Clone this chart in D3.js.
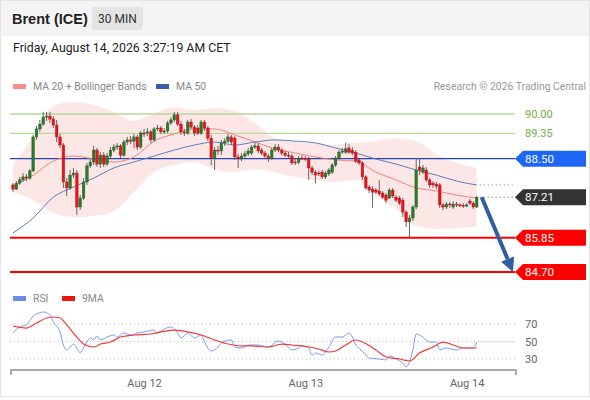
<!DOCTYPE html>
<html>
<head>
<meta charset="utf-8">
<script src="https://cdn.jsdelivr.net/npm/d3@7"></script>
<style>
  body { margin: 0; background: #fff; }
  svg { display: block; font-family: Roboto, "Liberation Sans", Arial, sans-serif; }
</style>
</head>
<body>
<svg id="chart" width="590" height="400"></svg>
<script>
// 30 min candles, Brent (ICE)
const open = [87.62,87.48,87.68,87.79,87.89,87.85,88.09,89.23,89.50,89.66,
  89.90,89.93,89.83,89.63,89.23,88.96,87.72,87.52,87.95,88.02,
  86.88,87.18,87.72,88.26,88.39,88.79,88.32,88.62,88.32,88.59,
  88.79,88.89,88.93,88.62,89.06,89.13,89.09,89.23,88.89,89.36,
  89.36,89.40,89.13,89.50,89.53,89.40,89.43,89.70,89.80,89.97,
  89.66,89.40,89.36,89.73,89.56,89.53,89.36,89.73,89.53,89.19,
  88.52,88.79,88.76,89.03,89.09,89.23,89.19,88.56,88.49,88.59,
  88.66,88.69,88.89,88.93,88.79,88.69,88.59,88.52,88.79,88.89,
  88.79,88.69,88.62,88.59,88.39,88.38,88.52,88.51,88.49,88.19,
  88.05,88.02,88.05,87.89,87.99,88.05,88.29,88.52,88.72,88.72,
  88.86,88.79,88.72,88.46,88.36,87.89,87.55,87.48,87.45,87.42,
  87.35,87.28,87.18,87.45,87.21,87.18,87.11,86.71,86.38,86.51,
  86.88,88.22,88.05,88.12,87.79,87.68,87.65,87.62,86.95,86.88,
  86.98,86.88,86.98,86.95,86.94,86.91,87.08,87.01,86.88];
const high = [87.68,87.75,87.89,88.02,87.99,88.15,89.30,89.60,89.80,90.07,
  90.07,90.07,89.93,89.80,89.33,89.03,87.85,88.12,88.19,88.12,
  87.28,87.85,88.36,88.52,88.93,88.86,88.72,88.72,88.69,88.89,
  88.99,89.03,88.99,89.13,89.23,89.26,89.33,89.30,89.43,89.50,
  89.53,89.46,89.56,89.63,89.60,89.53,89.77,89.90,90.07,90.07,
  89.77,89.50,89.80,89.83,89.63,89.63,89.80,89.80,89.60,89.30,
  88.89,88.93,89.13,89.19,89.33,89.30,89.26,88.66,88.69,88.76,
  88.86,88.96,89.06,89.03,88.86,88.76,88.66,88.86,88.99,88.99,
  88.86,88.76,88.72,88.66,88.49,88.59,88.62,88.59,88.56,88.26,
  88.12,88.09,88.12,88.09,88.19,88.36,88.59,88.79,88.86,89.03,
  88.99,88.89,88.79,88.52,88.42,87.95,87.62,87.58,87.52,87.79,
  87.42,87.35,87.52,87.52,87.28,87.25,87.18,86.78,86.61,86.95,
  88.52,88.52,88.29,88.22,87.85,87.75,87.72,87.68,87.01,87.05,
  87.05,87.08,87.05,87.01,87.01,87.01,87.15,87.08,87.25];
const low = [87.38,87.45,87.62,87.72,87.75,87.79,88.05,89.13,89.40,89.60,
  89.77,89.70,89.53,89.06,88.86,87.52,87.25,87.45,87.85,86.61,
  86.78,87.11,87.62,88.19,88.29,88.22,88.19,88.22,88.26,88.52,
  88.72,88.79,88.52,88.56,88.96,88.99,88.86,88.79,88.83,89.23,
  89.26,89.03,89.06,89.43,89.33,89.33,89.36,89.63,89.73,89.60,
  89.30,89.26,89.30,89.50,89.26,89.30,89.30,89.43,89.09,88.29,
  88.12,88.62,88.62,88.93,89.03,88.96,88.46,88.19,88.42,88.52,
  88.59,88.62,88.83,88.69,88.62,88.52,88.39,88.46,88.72,88.72,
  88.62,88.56,88.52,88.29,88.29,88.32,88.46,88.42,87.79,87.95,
  87.68,87.92,87.82,87.82,87.92,87.99,88.22,88.46,88.66,88.66,
  88.66,88.62,88.36,88.29,87.79,87.45,87.35,86.85,87.32,87.25,
  87.15,87.01,87.15,87.18,87.05,86.95,86.54,86.21,85.84,86.41,
  86.81,87.95,87.99,87.72,87.52,87.52,87.48,86.85,86.78,86.81,
  86.85,86.81,86.88,86.88,86.85,86.88,86.95,86.81,86.85];
const close = [87.48,87.68,87.79,87.89,87.85,88.09,89.23,89.50,89.66,89.90,
  89.93,89.83,89.63,89.23,88.96,87.72,87.52,87.95,88.02,86.88,
  87.18,87.72,88.26,88.39,88.79,88.32,88.62,88.32,88.59,88.79,
  88.89,88.93,88.62,89.06,89.13,89.09,89.23,88.89,89.36,89.35,
  89.40,89.13,89.50,89.53,89.40,89.43,89.70,89.80,89.97,89.66,
  89.40,89.36,89.73,89.56,89.36,89.36,89.73,89.53,89.19,88.52,
  88.79,88.76,89.03,89.09,89.23,89.06,88.56,88.49,88.59,88.66,
  88.76,88.89,88.93,88.76,88.69,88.59,88.52,88.79,88.89,88.79,
  88.69,88.62,88.59,88.36,88.38,88.52,88.51,88.49,88.19,88.05,
  87.95,87.99,87.89,88.02,88.12,88.29,88.52,88.72,88.76,88.83,
  88.72,88.69,88.42,88.36,87.89,87.52,87.45,87.38,87.38,87.32,
  87.21,87.11,87.45,87.25,87.11,87.01,86.71,86.38,86.51,86.88,
  88.12,88.12,88.19,87.79,87.62,87.62,87.58,86.95,86.88,86.98,
  86.95,86.98,86.95,86.94,86.91,86.95,87.01,86.88,87.21];

// overlays, read every 6 candles
const ovIdx = [0,6,12,18,24,30,36,42,48,54,60,66,72,78,84,90,96,102,108,114,120,126,132,138];
const ma20 = [87.58,87.95,88.42,88.59,88.49,88.39,88.56,89.09,89.33,89.50,89.50,89.30,
  89.06,88.83,88.69,88.56,88.46,88.42,88.05,87.79,87.52,87.42,87.28,87.18];
const ma50 = [86.01,86.51,87.21,87.55,87.85,88.19,88.39,88.59,88.79,88.96,89.06,88.96,
  89.06,89.13,89.09,89.03,88.86,88.69,88.49,88.32,88.12,87.95,87.75,87.62];
const bbUp = [88.29,89.23,90.27,90.40,90.30,90.07,89.77,90.03,90.23,90.13,90.20,90.10,
  89.70,89.19,89.06,89.03,88.96,89.03,89.09,89.19,89.09,88.66,88.36,88.19];
const bbLow = [87.38,87.11,86.68,86.54,86.58,86.74,87.38,88.05,88.29,88.39,88.15,88.05,
  88.15,88.05,87.89,87.79,87.72,87.79,87.28,86.81,86.24,86.14,86.17,86.21];

// RSI panel
const rsiIdx = [0,2,4,6,7,9,11,12,14,15,16,17,18,19,20,21,22,23,24,25,26,28,30,31,33,35,37,39,42,43,
  45,47,49,50,52,54,56,57,59,61,62,65,66,68,70,73,76,79,81,83,85,86,88,89,90,92,94,96,98,100,
  101,102,103,105,106,109,111,112,114,116,117,118,119,120,121,123,124,126,127,129,132,134,136,137,138];
const rsiVal = [59.7,66.6,68.9,79.1,81.4,83.7,80.3,72.3,60.9,46.0,40.3,43.7,47.1,42.6,36.9,42.6,49.4,54.0,51.7,56.3,
  51.7,55.1,57.4,55.1,59.7,57.4,59.7,60.9,63.1,59.7,64.3,66.6,59.7,54.0,59.7,54.0,57.4,49.4,39.1,43.7,
  48.3,51.7,43.7,42.6,46.0,46.0,43.7,50.6,47.1,40.3,42.6,44.9,42.6,34.6,36.9,34.6,43.7,55.1,55.1,59.7,
  55.1,46.0,42.6,34.6,31.1,30.0,28.9,33.4,30.0,25.4,20.9,26.6,40.3,58.6,57.4,51.7,49.4,49.4,40.3,42.6,
  40.3,42.6,42.6,42.6,49.4];
const maIdx = [0,4,7,10,12,14,16,19,21,24,26,29,32,36,41,44,48,52,56,60,64,68,71,76,80,83,86,91,94,96,
  99,102,104,108,111,115,118,121,125,128,131,134,138];
const maVal = [67.7,65.4,71.1,76.9,78.0,76.9,68.9,55.1,47.1,43.7,47.1,49.4,55.1,57.4,58.6,60.9,63.1,60.9,57.4,51.7,
  47.1,44.9,44.9,43.7,47.1,46.0,44.9,41.4,38.0,39.1,46.0,51.7,49.4,40.3,32.3,30.0,27.7,36.9,43.7,49.4,
  46.0,42.6,42.6];
const rsiTicks = [70, 50, 30];

// key levels
const resLevels = [90.00, 89.35];
const pivotLevel = 88.50;
const supLevels = [85.85, 84.70];
const lastPrice = close[close.length - 1];

const W = 590, H = 400;
const svg = d3.select("#chart");
const t0 = Date.UTC(2026, 7, 11, 4, 30);
const times = open.map((d, i) => new Date(t0 + i * 30 * 60 * 1000));

const x = d3.scaleUtc().domain([times[0], times[times.length - 1]]).range([13, 476.7]);
const y = d3.scaleLinear().domain([84.70, 90.00]).range([272, 114]);
const yR = d3.scaleLinear().domain([30, 70]).range([359, 324]);
const left = 10, right = 515;

// frame + header
svg.append("rect").attr("width", W).attr("height", H).attr("fill", "#fff");
svg.append("rect").attr("width", W).attr("height", 36).attr("fill", "#f4f4f4");
svg.append("rect").attr("x", 0.5).attr("y", 0.5).attr("width", W - 1).attr("height", 396)
  .attr("fill", "none").attr("stroke", "#e4e4e4");
svg.append("text").attr("x", 12).attr("y", 24).attr("font-size", 14.5).attr("font-weight", "bold")
  .attr("font-family", "Liberation Sans, Arial, sans-serif").attr("fill", "#222").text("Brent (ICE)");
svg.append("rect").attr("x", 92).attr("y", 7).attr("width", 51).attr("height", 23).attr("rx", 2)
  .attr("fill", "#e4e4e4");
svg.append("text").attr("x", 117.5).attr("y", 23).attr("text-anchor", "middle").attr("font-size", 12)
  .attr("fill", "#333").text("30 MIN");
svg.append("text").attr("x", 13).attr("y", 52).attr("font-size", 12.3).attr("fill", "#222")
  .text("Friday, August 14, 2026 3:27:19 AM CET");

// legend
function legendItem(g, lx, ly, color, label) {
  g.append("rect").attr("x", lx).attr("y", ly - 6).attr("width", 13).attr("height", 5).attr("fill", color);
  g.append("text").attr("x", lx + 20).attr("y", ly).attr("font-size", 10.4).attr("fill", "#888").text(label);
}
const leg = svg.append("g");
legendItem(leg, 13, 90, "#ff8a8a", "MA 20 + Bollinger Bands");
legendItem(leg, 156, 90, "#3a5ea8", "MA 50");
legendItem(leg, 13, 302, "#6a8ee8", "RSI");
legendItem(leg, 62, 302, "#ee1111", "9MA");
svg.append("text").attr("x", 586).attr("y", 90).attr("text-anchor", "end").attr("font-size", 10.4)
  .attr("fill", "#999").text("Research \u00a9 2026 Trading Central");

// bollinger band
const ovT = ovIdx.map((i) => times[i]);
const band = d3.area().curve(d3.curveMonotoneX)
  .x((d, i) => x(ovT[i])).y0((d, i) => y(bbLow[i])).y1((d) => y(d));
svg.append("path").datum(bbUp).attr("d", band).attr("fill", "#fde2e2").attr("opacity", 0.85);

// levels
resLevels.forEach((v) => {
  svg.append("line").attr("x1", left).attr("x2", right).attr("y1", y(v)).attr("y2", y(v))
    .attr("stroke", "#b6da9a").attr("stroke-width", 1.3);
  svg.append("text").attr("x", 525).attr("y", y(v) + 4).attr("font-size", 11).attr("fill", "#74ad3a")
    .text(v.toFixed(2));
});
svg.append("line").attr("x1", left).attr("x2", right).attr("y1", y(pivotLevel)).attr("y2", y(pivotLevel))
  .attr("stroke", "#2346b0").attr("stroke-width", 1.2);
supLevels.forEach((v) => {
  svg.append("line").attr("x1", left).attr("x2", right).attr("y1", y(v)).attr("y2", y(v))
    .attr("stroke", "#ff0000").attr("stroke-width", 2);
});

// moving averages
const ovLine = (arr) => d3.line().curve(d3.curveMonotoneX).x((d, i) => x(ovT[i])).y((d) => y(d))(arr);
svg.append("path").attr("d", ovLine(ma20)).attr("fill", "none").attr("stroke", "#f48080").attr("stroke-width", 1);
svg.append("path").attr("d", ovLine(ma50)).attr("fill", "none").attr("stroke", "#5b7fc4").attr("stroke-width", 1);

// dotted extensions
const xEnd = x(times[times.length - 1]) + 3;
svg.append("line").attr("x1", xEnd).attr("x2", right).attr("y1", y(ma50[ma50.length - 1])).attr("y2", y(ma50[ma50.length - 1]))
  .attr("stroke", "#5b7fc4").attr("stroke-dasharray", "1,3");
svg.append("line").attr("x1", xEnd).attr("x2", right).attr("y1", y(lastPrice)).attr("y2", y(lastPrice))
  .attr("stroke", "#555").attr("stroke-dasharray", "1,3");

// candles
const cg = svg.append("g");
times.forEach((t, i) => {
  const cx = x(t);
  const up = close[i] >= open[i];
  cg.append("line").attr("x1", cx).attr("x2", cx).attr("y1", y(high[i])).attr("y2", y(low[i]))
    .attr("stroke", "#666").attr("stroke-width", 1);
  const top = y(Math.max(open[i], close[i]));
  const h = Math.max(1, y(Math.min(open[i], close[i])) - top);
  cg.append("rect").attr("x", cx - 1.3).attr("y", top).attr("width", 2.6).attr("height", h)
    .attr("fill", up ? "#2b7a2b" : "#e8141a")
    .attr("stroke", up ? "#1d5a1d" : "#b01015").attr("stroke-width", 0.4);
});

// forecast arrow
const ax0 = xEnd + 2, ay0 = y(lastPrice);
const ax1 = right - 2, ay1 = y(supLevels[1]);
const len = Math.hypot(ax1 - ax0, ay1 - ay0);
const ux = (ax1 - ax0) / len, uy = (ay1 - ay0) / len;
const bx = ax1 - 14 * ux, by = ay1 - 14 * uy;
svg.append("line").attr("x1", ax0).attr("y1", ay0).attr("x2", bx).attr("y2", by)
  .attr("stroke", "#2f5f9f").attr("stroke-width", 4);
svg.append("polygon")
  .attr("points", [[ax1, ay1], [bx - 7 * uy, by + 7 * ux], [bx + 7 * uy, by - 7 * ux]].map((p) => p.join(",")).join(" "))
  .attr("fill", "#2f5f9f");

// price tags
function tag(v, color) {
  const ty = y(v);
  svg.append("polygon")
    .attr("points", `${right},${ty} ${right + 8},${ty - 8} 586,${ty - 8} 586,${ty + 8} ${right + 8},${ty + 8}`)
    .attr("fill", color);
  svg.append("text").attr("x", 525).attr("y", ty + 4).attr("font-size", 11.5).attr("fill", "#fff").text(v.toFixed(2));
}
tag(pivotLevel, "#1e66f5");
tag(lastPrice, "#333");
supLevels.forEach((v) => tag(v, "#ff0000"));

// RSI panel
rsiTicks.forEach((v) => {
  svg.append("line").attr("x1", left).attr("x2", right).attr("y1", yR(v)).attr("y2", yR(v))
    .attr("stroke", "#bbb").attr("stroke-dasharray", "1,3");
  svg.append("text").attr("x", 525).attr("y", yR(v) + 4).attr("font-size", 11).attr("fill", "#666").text(v);
});
const rLine = (idx) => d3.line().curve(d3.curveMonotoneX).x((d, i) => x(times[idx[i]])).y((d) => yR(d));
svg.append("path").attr("d", rLine(rsiIdx)(rsiVal)).attr("fill", "none").attr("stroke", "#7d9cf0").attr("stroke-width", 1);
svg.append("path").attr("d", rLine(maIdx)(maVal)).attr("fill", "none").attr("stroke", "#f03a3a").attr("stroke-width", 1.2);
const rLast = rsiVal[rsiVal.length - 1];
svg.append("line").attr("x1", xEnd).attr("x2", right).attr("y1", yR(rLast)).attr("y2", yR(rLast))
  .attr("stroke", "#7d9cf0").attr("stroke-dasharray", "1,3");

// time axis
svg.append("path").attr("d", `M11,375V370H516V375`).attr("fill", "none").attr("stroke", "#aaa").attr("stroke-width", 2);
const xAxis = svg.append("g").attr("transform", "translate(0,370)")
  .call(d3.axisBottom(x).ticks(d3.utcDay.every(1)).tickFormat(d3.utcFormat("%b %d")).tickSize(0).tickPadding(9));
xAxis.select(".domain").remove();
xAxis.selectAll("text").attr("font-size", 11).attr("fill", "#666").attr("font-family", "Roboto, Liberation Sans, Arial, sans-serif");
</script>
</body>
</html>
